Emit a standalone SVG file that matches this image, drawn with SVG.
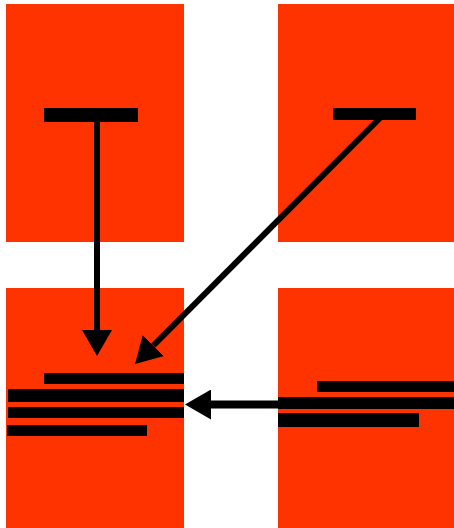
<svg xmlns="http://www.w3.org/2000/svg" width="454" height="528" viewBox="0 0 454 528">
<style>
.blk{fill:#FF3300}
.bar{fill:#000}
.con{stroke:#000;fill:none}
</style>
<defs>
<marker id="ah" viewBox="0 0 26 30" refX="0" refY="15" markerUnits="userSpaceOnUse" markerWidth="26" markerHeight="30" orient="auto">
<path d="M0,0 L26,15 L0,30 Z" fill="#000"/>
</marker>
</defs>
<rect width="454" height="528" fill="#fff"/>
<g id="node-tl">
<rect class="blk" x="6" y="4" width="178" height="238"/>
<rect class="bar" x="44" y="108" width="94" height="14"/>
</g>
<g id="node-tr">
<rect class="blk" x="278" y="4" width="176" height="238"/>
<rect class="bar" x="333" y="108" width="83" height="12"/>
</g>
<g id="node-bl">
<rect class="blk" x="6" y="288" width="178" height="240"/>
<rect class="bar" x="44" y="373" width="140" height="11"/>
<rect class="bar" x="8" y="389" width="176" height="13"/>
<rect class="bar" x="8" y="407" width="176" height="11"/>
<rect class="bar" x="7" y="425" width="140" height="11"/>
</g>
<g id="node-br">
<rect class="blk" x="278" y="288" width="176" height="240"/>
<rect class="bar" x="317" y="381" width="137" height="11"/>
<rect class="bar" x="278" y="397" width="176" height="12"/>
<rect class="bar" x="278" y="413" width="141" height="14"/>
</g>
<g id="connectors">
<line class="con" x1="97" y1="120" x2="97" y2="330" stroke-width="6" marker-end="url(#ah)"/>
<line class="con" x1="380" y1="118" x2="153.4" y2="345.5" stroke-width="6" marker-end="url(#ah)"/>
<line class="con" x1="300" y1="404.5" x2="211" y2="404.5" stroke-width="8" marker-end="url(#ah)"/>
</g>
</svg>
